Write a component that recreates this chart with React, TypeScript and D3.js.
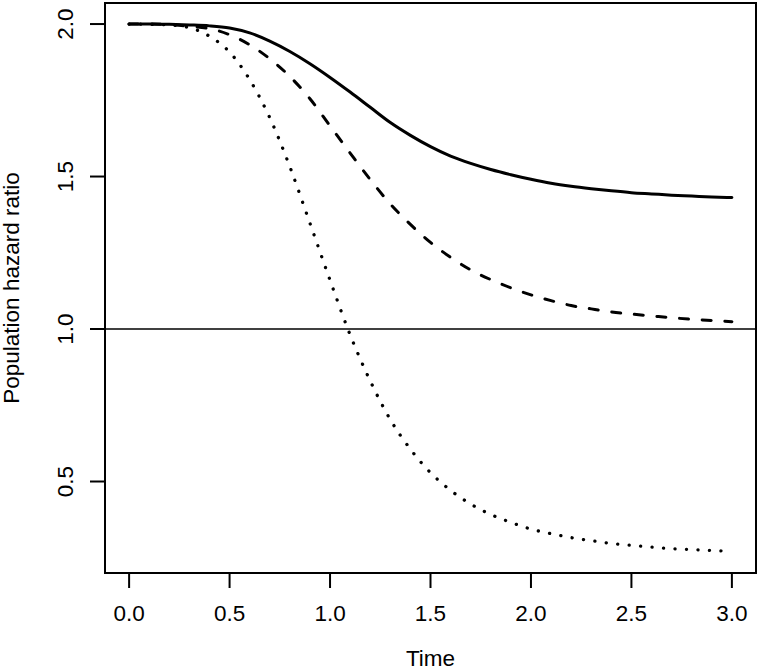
import React from 'react';
import * as d3 from 'd3';

// time grid shared by all three curves
const times = [
  0, 0.1, 0.2, 0.3, 0.4, 0.5, 0.6, 0.7, 0.8, 0.9, 1.0,
  1.1, 1.2, 1.3, 1.4, 1.5, 1.6, 1.7, 1.8, 1.9, 2.0,
  2.1, 2.2, 2.3, 2.4, 2.5, 2.6, 2.7, 2.8, 2.9, 3.0,
];

// values
const solidHR = [
  2.000, 2.000, 1.999, 1.997, 1.994, 1.987, 1.971, 1.944, 1.910, 1.870, 1.825,
  1.777, 1.727, 1.677, 1.635, 1.598, 1.567, 1.543, 1.523, 1.506, 1.491,
  1.478, 1.468, 1.460, 1.453, 1.447, 1.443, 1.439, 1.436, 1.433, 1.431,
];
const dashedHR = [
  2.000, 2.000, 1.998, 1.993, 1.985, 1.965, 1.932, 1.886, 1.828, 1.755, 1.666,
  1.577, 1.490, 1.410, 1.343, 1.284, 1.235, 1.194, 1.162, 1.135, 1.112,
  1.093, 1.077, 1.066, 1.056, 1.049, 1.043, 1.037, 1.032, 1.028, 1.024,
];
const dottedHR = [
  2.000, 1.999, 1.997, 1.988, 1.960, 1.908, 1.818, 1.693, 1.532, 1.347, 1.160,
  0.981, 0.830, 0.703, 0.606, 0.529, 0.471, 0.426, 0.392, 0.366, 0.344,
  0.329, 0.316, 0.306, 0.297, 0.291, 0.285, 0.280, 0.277, 0.274, 0.271,
];

const xTicks = [0, 0.5, 1.0, 1.5, 2.0, 2.5, 3.0];
const yTicks = [0.5, 1.0, 1.5, 2.0];

const font = '"Liberation Sans", Arial, Helvetica, sans-serif';
const fs = 22.5;

const App = () => {
  const left = 105, right = 756, top = 3, bottom = 573;

  const x = d3.scaleLinear().domain([-0.12, 3.12]).range([left, right]);
  const y = d3.scaleLinear().domain([0.2, 2.069]).range([bottom, top]);

  const line = d3.line<number>()
    .x((d, i) => x(times[i]))
    .y(d => y(d))
    .curve(d3.curveMonotoneX);

  const series = [
    { values: solidHR, dash: null, width: 3 },
    { values: dashedHR, dash: '9 13.7', width: 3 },
    { values: dottedHR, dash: '0.1 11.4', width: 3.3 },
  ];

  return (
    <svg width={760} height={672} style={{ position: 'absolute', left: 0, top: 0, background: '#fff' }}>
      <defs>
        <clipPath id="plotclip">
          <rect x={left} y={top} width={right - left} height={bottom - top} />
        </clipPath>
      </defs>

      {/* reference line at HR = 1 */}
      <line x1={left} x2={right} y1={y(1)} y2={y(1)} stroke="#000" strokeWidth={1.5} />

      <g clipPath="url(#plotclip)">
        {series.map((s, i) => (
          <path
            key={i}
            d={line(s.values) || ''}
            fill="none"
            stroke="#000"
            strokeWidth={s.width}
            strokeDasharray={s.dash || undefined}
            strokeLinecap="round"
            strokeLinejoin="round"
          />
        ))}
      </g>

      <rect x={left} y={top} width={right - left} height={bottom - top} fill="none" stroke="#000" strokeWidth={2} />

      {/* x axis */}
      {xTicks.map(t => (
        <g key={'x' + t}>
          <line x1={x(t)} x2={x(t)} y1={bottom} y2={bottom + 15} stroke="#000" strokeWidth={2} />
          <text x={x(t)} y={621} textAnchor="middle" fontFamily={font} fontSize={fs}>{t.toFixed(1)}</text>
        </g>
      ))}
      <text x={(left + right) / 2} y={666} textAnchor="middle" fontFamily={font} fontSize={fs}>Time</text>

      {/* y axis */}
      {yTicks.map(t => (
        <g key={'y' + t}>
          <line x1={left - 15} x2={left} y1={y(t)} y2={y(t)} stroke="#000" strokeWidth={2} />
          <text transform={`translate(73,${y(t)}) rotate(-90)`} textAnchor="middle" fontFamily={font} fontSize={fs}>{t.toFixed(1)}</text>
        </g>
      ))}
      <text transform={`translate(19,${(top + bottom) / 2}) rotate(-90)`} textAnchor="middle" fontFamily={font} fontSize={fs}>Population hazard ratio</text>
    </svg>
  );
};

export default App;
